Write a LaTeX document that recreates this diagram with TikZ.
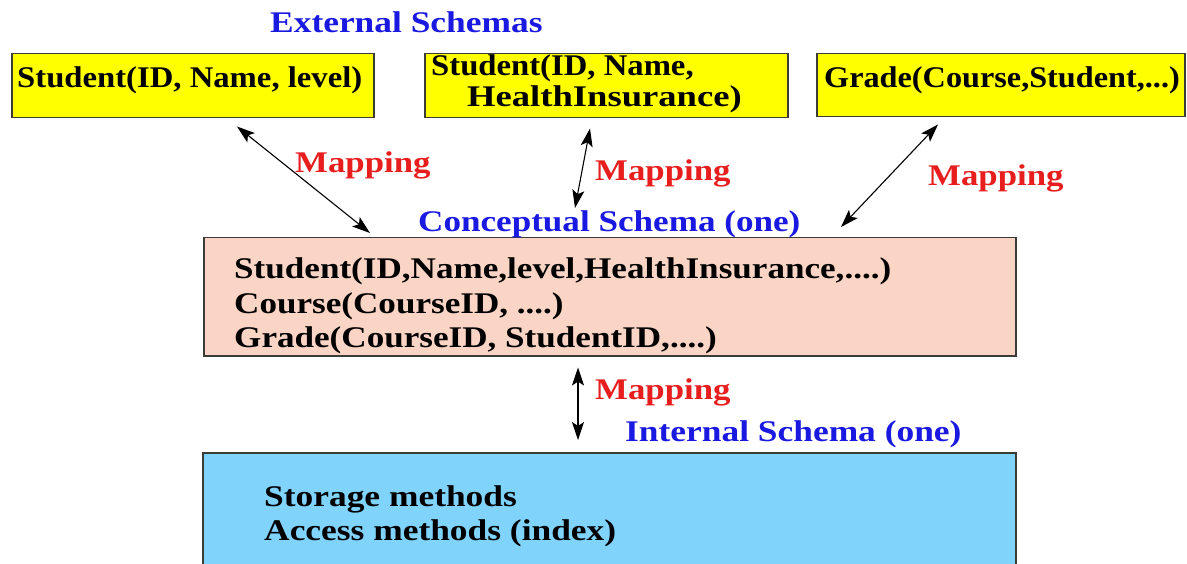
\documentclass[tikz,border=0pt]{standalone}
\usepackage{fontspec}
\setmainfont{Liberation Serif}
\usetikzlibrary{arrows.meta}
\definecolor{boxyellow}{RGB}{255,255,0}
\definecolor{boxpink}{RGB}{250,213,197}
\definecolor{boxblue}{RGB}{128,212,252}
\definecolor{titleblue}{RGB}{25,25,225}
\definecolor{mapred}{RGB}{232,30,30}
\definecolor{edgegray}{RGB}{60,60,55}
% horizontally widened bold text
\newcommand\widetxt[2][1.09]{\scalebox{#1}[1]{#2}}

\begin{document}
\begin{tikzpicture}[x=1pt,y=-1pt,
  box/.style={draw=edgegray, line width=1.5pt, anchor=north west, inner sep=0pt},
  txt/.style={font=\fontsize{30}{34}\selectfont\bfseries, inner sep=0pt, anchor=base west},
  title/.style={txt, text=titleblue},
  maplbl/.style={txt, text=mapred},
  maptip/.tip={Stealth[length=18pt,width=12pt,inset=4pt]},
  map/.style={line width=1.1pt, maptip-maptip}]

\useasboundingbox (0,0) rectangle (1187,564);

% external schemas
\node[box, fill=boxyellow, minimum width=362pt, minimum height=64pt] (e1) at (11,53) {};
\node[box, fill=boxyellow, minimum width=363pt, minimum height=64pt] (e2) at (424,53) {};
\node[box, fill=boxyellow, minimum width=368pt, minimum height=63pt] (e3) at (816,53) {};

% conceptual and internal schema
\node[box, fill=boxpink, minimum width=812pt, minimum height=118pt] (conc) at (203,237) {};
\node[box, fill=boxblue, minimum width=813pt, minimum height=125pt] (intl) at (202,452) {};

% titles
\node[title] (exttitle) at (270,33) {\widetxt[1.18]{External Schemas}};
\node[title] (conctitle) at (418,232) {\widetxt[1.17]{Conceptual Schema (one)}};
\node[title] (inttitle) at (625,441) {\widetxt[1.18]{Internal Schema (one)}};

% box contents
\node[txt] (t1) at (17,88) {\widetxt{Student(ID, Name, level)}};
\node[txt] (t2a) at (431,76) {\widetxt{Student(ID, Name,}};
\node[txt] (t2b) at (467,107) {\widetxt[1.22]{HealthInsurance)}};
\node[txt] (t3) at (824,88) {\widetxt[1.075]{Grade(Course,Student,...)}};

\node[txt] (c1) at (234,279) {\widetxt[1.17]{Student(ID,Name,level,HealthInsurance,....)}};
\node[txt] (c2) at (234,313) {\widetxt[1.17]{Course(CourseID, ....)}};
\node[txt] (c3) at (234,347) {\widetxt[1.17]{Grade(CourseID, StudentID,....)}};

\node[txt] (i1) at (264,506) {\widetxt[1.18]{Storage methods}};
\node[txt] (i2) at (264,540) {\widetxt[1.18]{Access methods (index)}};

% mapping labels
\node[maplbl] (m1) at (295,173) {\widetxt[1.16]{Mapping}};
\node[maplbl] (m2) at (595,181) {\widetxt[1.16]{Mapping}};
\node[maplbl] (m3) at (928,186) {\widetxt[1.16]{Mapping}};
\node[maplbl] (m4) at (595,399) {\widetxt[1.16]{Mapping}};

% mapping connectors
\draw[map] ([xshift=226pt,yshift=-8pt]e1.south west) -- ([xshift=167pt,yshift=4pt]conc.north west);
\draw[map] ([xshift=166pt,yshift=-10pt]e2.south west) -- ([xshift=372pt,yshift=29pt]conc.north west);
\draw[map] ([xshift=122pt,yshift=-7pt]e3.south west) -- ([xshift=638pt,yshift=10pt]conc.north west);
\draw[map] ([xshift=375pt,yshift=-11pt]conc.south west) -- ([xshift=376pt,yshift=12pt]intl.north west);
\end{tikzpicture}
\end{document}
